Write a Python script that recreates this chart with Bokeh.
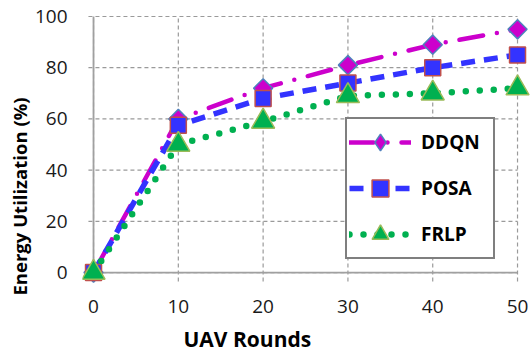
import math
from bokeh.plotting import figure
from bokeh.models import Range1d, FixedTicker, Legend, LegendItem, Title
from bokeh.embed import file_html
from bokeh.resources import INLINE

rounds = [0, 10, 20, 30, 40, 50]
ddqn = [0, 60, 72, 81, 89, 95]
posa = [0, 57.5, 68, 74, 80, 85]
frlp = [0, 50, 59, 69, 70, 72]
x_ticks = [0, 10, 20, 30, 40, 50]
y_ticks = [0, 20, 40, 60, 80, 100]

FONT = "Open Sans"

p = figure(width=530, height=360, output_backend="svg", toolbar_location=None,
           x_range=Range1d(-1.3, 51.53), y_range=Range1d(-4.26, 100.78),
           min_border_left=82, min_border_right=0, min_border_top=14, min_border_bottom=75)
p.outline_line_color = None
p.background_fill_color = "white"
p.border_fill_color = "white"
p.xgrid.visible = False
p.ygrid.visible = False

for ax in (p.xaxis[0], p.yaxis[0]):
    ax.axis_line_color = None
    ax.major_tick_line_color = None
    ax.minor_tick_line_color = None
    ax.major_label_text_font = FONT
    ax.major_label_text_font_size = "19px"
    ax.major_label_text_color = "#1a1a1a"
    ax.major_label_text_line_height = 1.0
p.xaxis[0].ticker = FixedTicker(ticks=x_ticks)
p.yaxis[0].ticker = FixedTicker(ticks=y_ticks)
p.xaxis[0].major_label_standoff = 10
p.yaxis[0].major_label_standoff = 9

# dashed grid, limited to the data area with a short tick stub outside
n = len(y_ticks)
p.segment(x0=[x_ticks[0] - 0.6] * n, y0=y_ticks, x1=[x_ticks[-1]] * n, y1=y_ticks,
          line_color="#9a9a9a", line_dash="4 3", line_width=1.2)
m = len(x_ticks)
p.segment(x0=x_ticks, y0=[y_ticks[0] - 3.5] * m, x1=x_ticks, y1=[y_ticks[-1]] * m,
          line_color="#9a9a9a", line_dash="4 3", line_width=1.2)
p.segment(x0=[x_ticks[0]], y0=[y_ticks[0]], x1=[x_ticks[0]], y1=[y_ticks[-1]],
          line_color="#a0a0a0", line_width=1.8)
p.segment(x0=[x_ticks[0]], y0=[y_ticks[0]], x1=[x_ticks[-1]], y1=[y_ticks[0]],
          line_color="#a0a0a0", line_width=1.8)

l1 = p.line(rounds, ddqn, line_color="#CC00CC", line_width=4.5, line_dash="24 14 0 14", line_cap="round")
m1 = p.scatter(rounds, ddqn, marker="square", angle=math.pi / 4, size=13.5,
               fill_color="#CC00CC", line_color="#4F81BD", line_width=1.5)
l2 = p.line(rounds, posa, line_color="#3333FF", line_width=5.5, line_dash="14 9")
m2 = p.scatter(rounds, posa, marker="square", size=16,
               fill_color="#3333FF", line_color="#C0504D", line_width=1.5)
l3 = p.line(rounds, frlp, line_color="#00B050", line_width=6.5, line_dash="0 14", line_cap="round")
m3 = p.scatter(rounds, frlp, marker="triangle", size=23,
               fill_color="#00B050", line_color="#9BBB59", line_width=1.5)
# legend-only diamond (legend glyphs ignore marker angle); no visible points
d1 = p.scatter([float("nan")], [float("nan")], marker="diamond", size=20,
               fill_color="#CC00CC", line_color="#4F81BD", line_width=1.5)

legend = Legend(items=[LegendItem(label="DDQN", renderers=[l1, d1]),
                       LegendItem(label="POSA", renderers=[l2, m2]),
                       LegendItem(label="FRLP", renderers=[l3, m3])],
                location=(263, 24), margin=0, padding=2, spacing=4,
                glyph_width=62, glyph_height=42, label_height=20, label_width=70,
                label_standoff=10,
                label_text_font=FONT, label_text_font_size="19px", label_text_font_style="bold",
                label_text_color="black", border_line_color="black", border_line_width=2,
                background_fill_color="white", background_fill_alpha=1)
p.add_layout(legend, "center")

p.add_layout(Title(text="Energy Utilization (%)", align="left", offset=-12,
                   text_font=FONT, text_font_size="18.5px", text_font_style="bold",
                   text_color="black", standoff=0), "left")
p.add_layout(Title(text="UAV Rounds", align="left", offset=101,
                   text_font=FONT, text_font_size="21px", text_font_style="bold",
                   text_color="black", text_line_height=1.0, standoff=15), "below")

open("out.html", "w").write(file_html(p, INLINE))
